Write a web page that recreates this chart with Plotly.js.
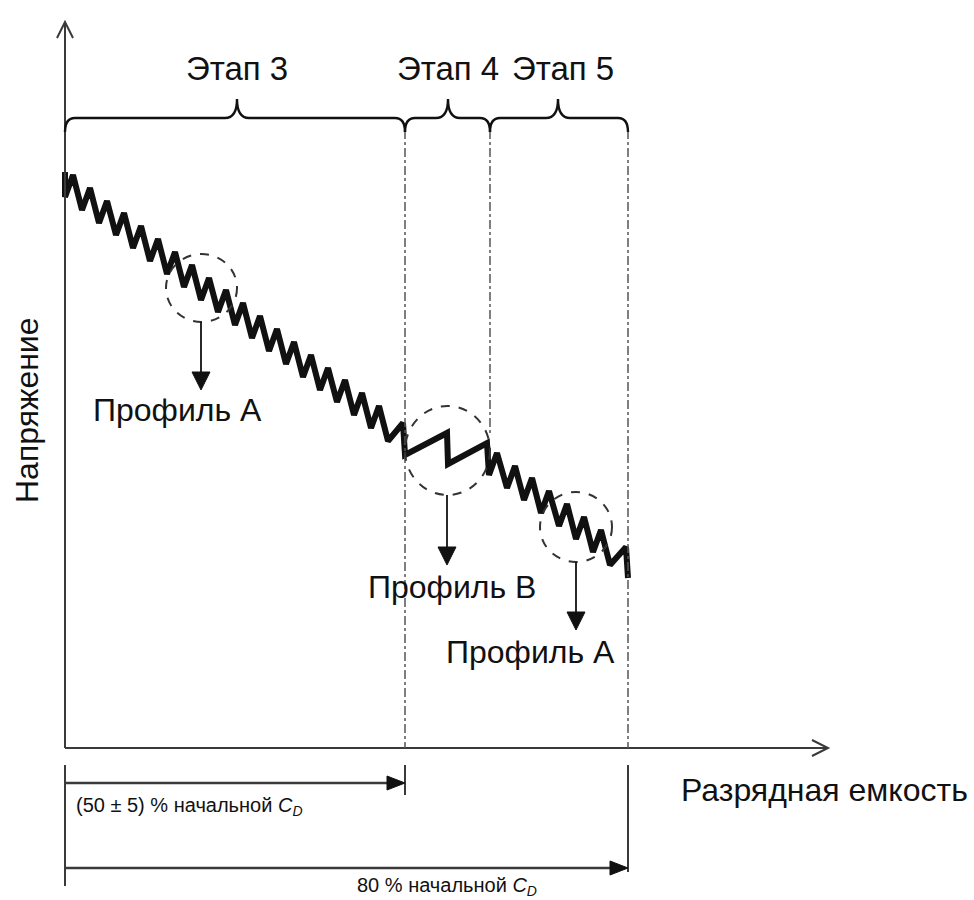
<!DOCTYPE html>
<html>
<head>
<meta charset="utf-8">
<script src="https://cdn.plot.ly/plotly-3.0.1.min.js"></script>
<style>html,body{margin:0;padding:0;background:#fff;}#chart{width:974px;height:900px;}</style>
</head>
<body>
<div id="chart"></div>
<script>
// Schematic coordinates (x: discharge capacity, y: voltage, screen-like units)
const stage3X = [65,65,73,82,90,99,107,116,124,133,141,150,158,167,175,184,192,201,209,218,226,235,243,252,260,269,277,286,294,303,311,320,328,337,345,354,362,371,379,388,403,405];
const stage3Y = [172,197,175,210,188,223,201,235,213,248,226,261,239,274,252,287,265,300,278,312,290,325,303,338,316,351,329,364,342,377,355,390,368,402,380,415,393,428,406,441,423,455];
const stage4X = [447,448,487,489];
const stage4Y = [433,464,443,475];
const stage5X = [497,507,515,524,532,541,549,559,567,576,584,593,601,610,626,628];
const stage5Y = [453,488,466,500,478,513,491,526,504,539,517,552,530,565,547,578];

const stageBounds = [65,405,490,628];          // stage boundaries on the capacity axis
const stageLabels = ['Этап 3','Этап 4','Этап 5'];
const stageTips = [237,448,558];
const profileLabels = ['Профиль А','Профиль В','Профиль А'];

const voltX = stage3X.concat(stage4X, stage5X);
const voltY = stage3Y.concat(stage4Y, stage5Y);

const ink = '#111111';
const axisCol = '#3a3a3a';
const font = 'Arial, "Liberation Sans", Helvetica, sans-serif';

const shapes = [];
const annotations = [];

function line(x0,y0,x1,y1,w,col,dash){
  shapes.push({type:'line',xref:'x',yref:'y',x0,y0,x1,y1,line:{color:col||ink,width:w||2,dash:dash||'solid'},layer:'above'});
}
function path(p,fill,col,w){
  shapes.push({type:'path',xref:'x',yref:'y',path:p,fillcolor:fill||'rgba(0,0,0,0)',line:{color:col||ink,width:w===undefined?2:w},layer:'above'});
}
function text(t,x,y,size,anchor,extra){
  annotations.push(Object.assign({text:t,x,y,xref:'x',yref:'y',showarrow:false,xanchor:anchor||'center',yanchor:'middle',font:{family:font,size:size,color:ink}},extra||{}));
}

// axes with open arrowheads
line(65,748,65,24,2,axisCol);
path('M57,38 L65,22 L73,38',null,axisCol,2);
line(65,748,826,748,2,axisCol);
path('M812,740 L828,748 L812,756',null,axisCol,2);

// dash-dot stage boundaries
line(405,130,405,748,1.5,'#555','dashdot');
line(490,130,490,436,1.5,'#555','dashdot');
line(628,130,628,748,1.5,'#555','dashdot');

// braces
function brace(xa,xb,xm){
  const yl=118, ye=132, yt=99;
  path(`M${xa},${ye} Q${xa},${yl} ${xa+10},${yl} L${xm-12},${yl} Q${xm},${yl} ${xm},${yt} Q${xm},${yl} ${xm+12},${yl} L${xb-10},${yl} Q${xb},${yl} ${xb},${ye}`,null,ink,2.4);
}
for(let i=0;i<3;i++){
  brace(stageBounds[i],stageBounds[i+1],stageTips[i]);
}
text(stageLabels[0],237,68,33);
text(stageLabels[1],448,68,33);
text(stageLabels[2],563,68,33);

// dashed circles + arrows for profiles
const circ = [[166,254,237,322],[405,406,490,495],[540,492,612,562]];
const arrowX = [201,447,576];
const arrowTop = [322,495,562];
const arrowTip = [390,565,630];
circ.forEach((c,i)=>{
  shapes.push({type:'circle',xref:'x',yref:'y',x0:c[0],y0:c[1],x1:c[2],y1:c[3],line:{color:'#333',width:2,dash:'dash'},layer:'above'});
  line(arrowX[i],arrowTop[i],arrowX[i],arrowTip[i]-16,1.8,ink);
  const ax=arrowX[i], ay=arrowTip[i];
  path(`M${ax-9},${ay-18} L${ax+9},${ay-18} L${ax},${ay} Z`,ink,ink,1);
});
text(profileLabels[0],177,410,32);
text(profileLabels[1],452,587,32);
text(profileLabels[2],530,652,32);

// bottom measurement arrows
line(65,765,65,886,2,axisCol);
line(405,765,405,795,2,axisCol);
line(628,765,628,872,2,axisCol);
line(65,783,392,783,2.5,axisCol);
path('M387,776 L405,783 L387,790 Z',ink,ink,1);
line(65,868,614,868,2.5,axisCol);
path('M610,861 L628,868 L610,875 Z',ink,ink,1);
text('(50 ± 5) % начальной <i>C</i><sub><i>D</i></sub>',74,806,20,'left');
text('80 % начальной <i>C</i><sub><i>D</i></sub>',355,886,20,'left');

// axis titles
text('Разрядная емкость',679,790,32,'left');
text('Напряжение',27,410,32,'center',{textangle:-90});

const trace = {
  x: voltX, y: voltY, type:'scatter', mode:'lines',
  line:{color:ink,width:6,shape:'linear'},
  hoverinfo:'skip', showlegend:false
};

const layout = {
  width:974, height:900,
  margin:{l:0,r:0,t:0,b:0},
  paper_bgcolor:'#fff', plot_bgcolor:'#fff',
  xaxis:{range:[0,974],visible:false,fixedrange:true},
  yaxis:{range:[900,0],visible:false,fixedrange:true},
  shapes, annotations, showlegend:false
};
Plotly.newPlot('chart',[trace],layout,{staticPlot:true,displayModeBar:false});
</script>
</body>
</html>
